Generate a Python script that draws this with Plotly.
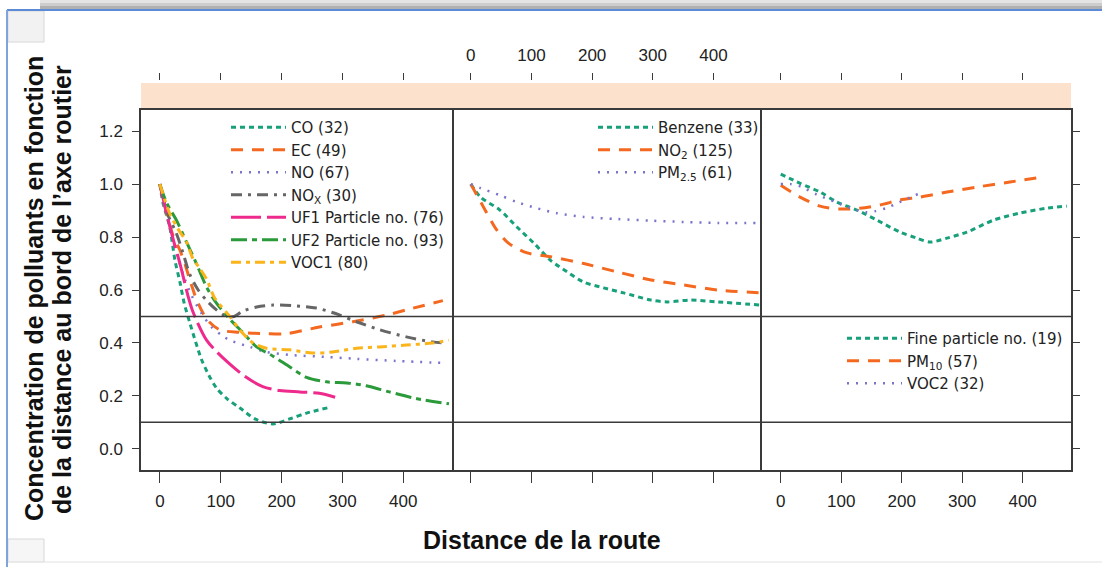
import plotly.graph_objects as go

W, H = 1102, 567

# ---------------- data ----------------
# Panel 1
co_x = [0, 5, 16, 25, 33, 40, 50, 68, 80, 93, 110, 131, 159, 186, 213, 241, 276]
co_y = [1.0, 0.93, 0.84, 0.71, 0.63, 0.55, 0.47, 0.34, 0.28, 0.23, 0.19, 0.155, 0.11, 0.094, 0.113, 0.135, 0.155]
ec_x = [0, 10, 21, 33, 41, 49, 61, 77, 98, 130, 175, 208, 262, 317, 372, 405, 465]
ec_y = [1.0, 0.90, 0.81, 0.75, 0.70, 0.64, 0.56, 0.49, 0.45, 0.44, 0.435, 0.435, 0.46, 0.48, 0.505, 0.525, 0.56]
no_x = [0, 11, 21, 30, 38, 52, 69, 85, 101, 115, 148, 175, 213, 274, 323, 388, 470]
no_y = [1.0, 0.90, 0.79, 0.72, 0.66, 0.58, 0.51, 0.46, 0.43, 0.41, 0.385, 0.366, 0.355, 0.347, 0.34, 0.332, 0.324]
nox_x = [0, 14, 27, 38, 49, 63, 77, 93, 110, 122, 136, 159, 186, 224, 257, 295, 323, 361, 405, 448, 472]
nox_y = [1.0, 0.88, 0.815, 0.74, 0.66, 0.60, 0.56, 0.525, 0.50, 0.50, 0.52, 0.536, 0.543, 0.54, 0.532, 0.506, 0.48, 0.45, 0.423, 0.404, 0.40]
uf1_x = [0, 11, 22, 33, 46, 54, 77, 110, 142, 169, 197, 230, 262, 288]
uf1_y = [1.0, 0.89, 0.79, 0.70, 0.58, 0.52, 0.41, 0.33, 0.27, 0.235, 0.22, 0.215, 0.21, 0.195]
uf2_x = [0, 11, 27, 38, 52, 60, 77, 93, 115, 136, 159, 186, 213, 241, 274, 307, 339, 377, 421, 475]
uf2_y = [1.0, 0.93, 0.865, 0.81, 0.74, 0.70, 0.61, 0.55, 0.49, 0.44, 0.385, 0.35, 0.31, 0.27, 0.253, 0.249, 0.238, 0.215, 0.19, 0.17]
voc1_x = [0, 16, 30, 44, 54, 66, 77, 90, 115, 131, 153, 175, 213, 251, 284, 323, 361, 405, 448, 475]
voc1_y = [1.0, 0.89, 0.83, 0.78, 0.72, 0.68, 0.64, 0.57, 0.50, 0.45, 0.40, 0.38, 0.374, 0.362, 0.366, 0.38, 0.385, 0.392, 0.40, 0.41]

# Panel 2
benz_x = [0, 16, 48, 76, 104, 131, 159, 186, 219, 252, 297, 324, 362, 407, 479]
benz_y = [1.0, 0.951, 0.902, 0.838, 0.777, 0.713, 0.668, 0.63, 0.608, 0.589, 0.562, 0.555, 0.562, 0.555, 0.543]
no2_x = [0, 21, 43, 62, 93, 131, 186, 242, 297, 351, 407, 479]
no2_y = [1.0, 0.913, 0.826, 0.777, 0.74, 0.726, 0.70, 0.668, 0.638, 0.619, 0.60, 0.589]
pm25_x = [0, 16, 48, 76, 109, 142, 186, 242, 297, 351, 407, 470]
pm25_y = [1.0, 0.985, 0.958, 0.932, 0.909, 0.89, 0.876, 0.868, 0.862, 0.857, 0.853, 0.853]

# Panel 3
fine_x = [0, 32, 65, 93, 126, 159, 197, 225, 247, 275, 308, 352, 396, 440, 473]
fine_y = [1.038, 1.003, 0.97, 0.932, 0.902, 0.864, 0.819, 0.796, 0.781, 0.796, 0.819, 0.864, 0.891, 0.909, 0.917]
pm10_x = [0, 32, 65, 98, 131, 164, 197, 230, 275, 325, 379, 432]
pm10_y = [0.996, 0.951, 0.917, 0.906, 0.909, 0.921, 0.94, 0.951, 0.97, 0.989, 1.008, 1.026]
voc2_x = [0, 17, 34, 60, 93, 110, 141, 157, 174, 189, 219, 236]
voc2_y = [1.0, 1.0, 0.99, 0.96, 0.93, 0.913, 0.894, 0.898, 0.909, 0.924, 0.955, 0.97]

x_ticks = [0, 100, 200, 300, 400]
y_ticks = [0.0, 0.2, 0.4, 0.6, 0.8, 1.0, 1.2]
y_tick_text = ["0.0", "0.2", "0.4", "0.6", "0.8", "1.0", "1.2"]
ref_levels = [0.5, 0.1]

# ---------------- styles ----------------
GREEN = "#17A07A"
ORANGE = "#F4691F"
PURPLE = "#7B74CC"
GRAY = "#666666"
PINK = "#EE2A8C"
GREEN2 = "#2A9A3A"
YELLOW = "#FBB41A"

DOT_SHORT = "5px,4px"
DASH = "12px,9px"
DOTS = "2px,7px"
DASHDOT = "11px,6px,3px,6px"
LONGDASH = "30px,6px"
UF2DASH = "16px,5px,5px,5px"
VOCDASH = "10px,5px,4px,5px"

FONT = "Liberation Sans, Arial, sans-serif"
LEGFONT = "DejaVu Sans, Liberation Sans, sans-serif"
AX = "#3a3a3a"

def px2x(px):
    return px / W

def px2y(py):
    return 1 - py / H

X_LEFT = [141, 452, 762]
X_RIGHT = [452, 762, 1071]
PLOT_TOP, PLOT_BOT, STRIP_TOP = 110, 470, 83
XR = [-31, 480]
YR = [-0.08, 1.28]

fig = go.Figure()

def add(x, y, name, color, dash, axis, legend, width=3):
    fig.add_trace(go.Scatter(
        x=x, y=y, name=name, mode="lines",
        line=dict(color=color, dash=dash, width=width, shape="spline", smoothing=0.8),
        xaxis=axis[0], yaxis=axis[1], legend=legend))

p1 = ("x", "y")
p2 = ("x2", "y2")
p3 = ("x3", "y3")
add(co_x, co_y, "CO (32)", GREEN, DOT_SHORT, p1, "legend")
add(ec_x, ec_y, "EC (49)", ORANGE, DASH, p1, "legend")
add(no_x, no_y, "NO (67)", PURPLE, DOTS, p1, "legend", 2.5)
add(nox_x, nox_y, "NO<sub>X</sub> (30)", GRAY, DASHDOT, p1, "legend")
add(uf1_x, uf1_y, "UF1 Particle no. (76)", PINK, LONGDASH, p1, "legend")
add(uf2_x, uf2_y, "UF2 Particle no. (93)", GREEN2, UF2DASH, p1, "legend")
add(voc1_x, voc1_y, "VOC1 (80)", YELLOW, VOCDASH, p1, "legend")

add(benz_x, benz_y, "Benzene (33)", GREEN, DOT_SHORT, p2, "legend2")
add(no2_x, no2_y, "NO<sub>2</sub> (125)", ORANGE, DASH, p2, "legend2")
add(pm25_x, pm25_y, "PM<sub>2.5</sub> (61)", PURPLE, DOTS, p2, "legend2", 2.5)

add(fine_x, fine_y, "Fine particle no. (19)", GREEN, DOT_SHORT, p3, "legend3")
add(pm10_x, pm10_y, "PM<sub>10</sub> (57)", ORANGE, DASH, p3, "legend3")
add(voc2_x, voc2_y, "VOC2 (32)", PURPLE, DOTS, p3, "legend3", 2.5)

# empty traces to host top (strip) axes
for xa in ["x4", "x5", "x6"]:
    fig.add_trace(go.Scatter(x=[], y=[], xaxis=xa, yaxis="y", showlegend=False, hoverinfo="skip"))

tickfont = dict(family=FONT, size=17, color="#222")
ydom = [px2y(PLOT_BOT), px2y(PLOT_TOP)]

def xax(i, labels):
    return dict(domain=[px2x(X_LEFT[i]), px2x(X_RIGHT[i])], range=XR, anchor=["y", "y2", "y3"][i],
                tickvals=x_ticks, ticks="outside", ticklen=11, tickwidth=1.3, tickcolor=AX,
                showticklabels=labels, tickfont=tickfont, ticklabelstandoff=4,
                showline=True, linecolor=AX, linewidth=1.5,
                mirror=True, showgrid=False, zeroline=False, fixedrange=True)

def yax(i, side, ticks, labels, line):
    return dict(domain=ydom, range=YR, anchor=["x", "x2", "x3"][i], side=side,
                tickvals=y_ticks, ticktext=y_tick_text, ticks=ticks, ticklen=7, tickwidth=1.3,
                tickcolor=AX, showticklabels=labels, tickfont=tickfont, ticklabelstandoff=6,
                showline=line, linecolor=AX,
                linewidth=1.5, mirror=True, showgrid=False, zeroline=False, fixedrange=True)

def topax(i, labels):
    return dict(overlaying=["x", "x2", "x3"][i], anchor="free", position=px2y(STRIP_TOP - 3), side="top",
                range=XR, tickvals=x_ticks, ticks="outside", ticklen=7, tickwidth=1.3, tickcolor=AX,
                showticklabels=labels, tickfont=tickfont, ticklabelstandoff=5,
                showline=False, showgrid=False,
                zeroline=False, fixedrange=True)

legfont = dict(family=LEGFONT, size=15, color="#222")

def leg(xpx, ypx):
    return dict(x=px2x(xpx), y=px2y(ypx), xanchor="left", yanchor="top", bgcolor="rgba(0,0,0,0)",
                font=legfont, itemwidth=55, tracegroupgap=0, borderwidth=0, itemclick=False)

shapes = []
# decorative slide frame
for (y0, y1, c) in [(0, 3, "#e4e4e4"), (3, 6, "#cdcdcd"), (6, 9, "#b0b0b0")]:
    shapes.append(dict(type="rect", xref="paper", yref="paper", x0=px2x(40), x1=1, y0=px2y(y1), y1=px2y(y0),
                       fillcolor=c, line=dict(width=0), layer="below"))
shapes.append(dict(type="line", xref="paper", yref="paper", x0=px2x(7), x1=1, y0=px2y(10), y1=px2y(10),
                   line=dict(color="#5B8BD6", width=2)))
shapes.append(dict(type="line", xref="paper", yref="paper", x0=px2x(7), x1=px2x(7), y0=0, y1=px2y(10),
                   line=dict(color="#7FA3DD", width=2)))
shapes.append(dict(type="rect", xref="paper", yref="paper", x0=px2x(8), x1=px2x(44), y0=px2y(42), y1=px2y(11),
                   fillcolor="#f2f2f2", line=dict(color="#d8d8d8", width=1), layer="below"))
shapes.append(dict(type="rect", xref="paper", yref="paper", x0=px2x(8), x1=px2x(44), y0=px2y(562), y1=px2y(539),
                   fillcolor="#f6f6f6", line=dict(color="#d8d8d8", width=1), layer="below"))
shapes.append(dict(type="line", xref="paper", yref="paper", x0=px2x(44), x1=1, y0=px2y(562), y1=px2y(562),
                   line=dict(color="#e2e2e2", width=1)))
# strip
shapes.append(dict(type="rect", xref="paper", yref="paper", x0=px2x(141), x1=px2x(1071),
                   y0=px2y(PLOT_TOP), y1=px2y(STRIP_TOP), fillcolor="#FCE1CD", line=dict(width=0), layer="below"))
# reference horizontal lines across all panels
for lv in ref_levels:
    shapes.append(dict(type="line", xref="paper", yref="y", x0=px2x(141), x1=px2x(1071), y0=lv, y1=lv,
                       line=dict(color=AX, width=1.5)))

TITLE_FONT = dict(family=FONT, size=25, color="#111")
annotations = [
    dict(text="<b>Concentration de polluants en fonction</b>",
         xref="paper", yref="paper", x=px2x(34), y=px2y(289), textangle=-90, showarrow=False,
         font=TITLE_FONT, xanchor="center", yanchor="middle"),
    dict(text="<b>de la distance au bord de l’axe routier</b>",
         xref="paper", yref="paper", x=px2x(62), y=px2y(290), textangle=-90, showarrow=False,
         font=TITLE_FONT, xanchor="center", yanchor="middle"),
    dict(text="<b>Distance de la route</b>", xref="paper", yref="paper", x=px2x(542), y=px2y(540),
         showarrow=False, font=dict(family=FONT, size=25, color="#111"), xanchor="center", yanchor="middle"),
]

fig.update_layout(
    width=W, height=H, margin=dict(l=0, r=0, t=0, b=0),
    paper_bgcolor="white", plot_bgcolor="rgba(0,0,0,0)",
    xaxis=xax(0, True), xaxis2=xax(1, False), xaxis3=xax(2, True),
    xaxis4=topax(0, False), xaxis5=topax(1, True), xaxis6=topax(2, False),
    yaxis=yax(0, "left", "outside", True, True), yaxis2=yax(1, "left", "", False, False),
    yaxis3=yax(2, "right", "outside", False, True),
    legend=leg(226, 111), legend2=leg(593, 111), legend3=leg(842, 322),
    shapes=shapes, annotations=annotations, showlegend=True,
    font=dict(family=FONT),
)

fig.write_html("out.html")
